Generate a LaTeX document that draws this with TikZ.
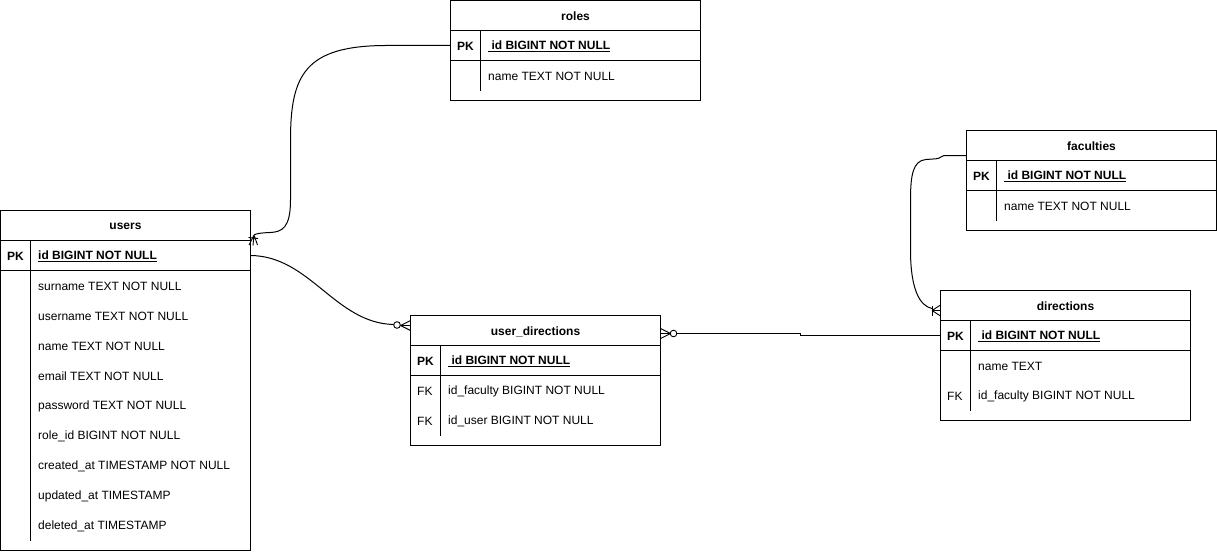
\documentclass[tikz,border=0pt]{standalone}
\usepackage{fontspec}
\setmainfont{Liberation Sans}
\begin{document}
\begin{tikzpicture}[x=1pt,y=-1pt,
  ln/.style={line width=1pt, line cap=rect},
  tbl/.style={draw, line width=1pt, minimum width=250pt, inner sep=0pt, outer sep=0pt},
  ttl/.style={font=\fontsize{12}{14}\selectfont\bfseries, inner sep=0pt, yshift=-1pt},
  fld/.style={font=\fontsize{12}{14}\selectfont, anchor=west, inner sep=0pt, yshift=-1pt},
  key/.style={font=\fontsize{12}{14}\selectfont, anchor=west, inner sep=0pt, yshift=-1pt},
  edge/.style={line width=1pt},
  erm/.style={line width=0.9pt}
]
\useasboundingbox (0,0) rectangle (1217,551);

% ---------------- users ----------------
\node[tbl, minimum height=340pt] (users) at (125.5,380.5) {};
\node[ttl] (usersT) at (125.5,225.5) {users};
\draw[ln] (0.5,240.5) -- (250.5,240.5);
\draw[ln] (0.5,270.5) -- (250.5,270.5);
\draw[ln] (30.5,240.5) -- (30.5,540.5);
\node[key,font=\fontsize{12}{14}\selectfont\bfseries] (uPK) at (7,255.5) {PK};
\node[fld,font=\fontsize{12}{14}\selectfont\bfseries] (uId) at (38,255.5) {\underline{id BIGINT NOT NULL}};
\node[fld] (uF1) at (38,285.5) {surname TEXT NOT NULL};
\node[fld] (uF2) at (38,315.5) {username TEXT NOT NULL};
\node[fld] (uF3) at (38,345.5) {name TEXT NOT NULL};
\node[fld] (uF4) at (38,375.5) {email TEXT NOT NULL};
\node[fld] (uF5) at (38,405.5) {password TEXT NOT NULL};
\node[fld] (uF6) at (38,435.5) {role\_id BIGINT NOT NULL};
\node[fld] (uF7) at (38,465.5) {created\_at TIMESTAMP NOT NULL};
\node[fld] (uF8) at (38,495.5) {updated\_at TIMESTAMP};
\node[fld] (uF9) at (38,525.5) {deleted\_at TIMESTAMP};

% ---------------- roles ----------------
\node[tbl, minimum height=100pt] (roles) at (575.5,50.5) {};
\node[ttl] (rolesT) at (575.5,15.5) {roles};
\draw[ln] (450.5,30.5) -- (700.5,30.5);
\draw[ln] (450.5,60.5) -- (700.5,60.5);
\draw[ln] (480.5,30.5) -- (480.5,90.5);
\node[key,font=\fontsize{12}{14}\selectfont\bfseries] (rPK) at (457,45.5) {PK};
\node[fld,font=\fontsize{12}{14}\selectfont\bfseries] (rId) at (488,45.5) {\underline{\ id BIGINT NOT NULL}};
\node[fld] (rF1) at (488,75.5) {name TEXT NOT NULL};

% ---------------- faculties ----------------
\node[tbl, minimum height=100pt] (fac) at (1091.5,180.5) {};
\node[ttl] (facT) at (1091.5,145.5) {faculties};
\draw[ln] (966.5,160.5) -- (1216.5,160.5);
\draw[ln] (966.5,190.5) -- (1216.5,190.5);
\draw[ln] (996.5,160.5) -- (996.5,220.5);
\node[key,font=\fontsize{12}{14}\selectfont\bfseries] (fPK) at (973,175.5) {PK};
\node[fld,font=\fontsize{12}{14}\selectfont\bfseries] (fId) at (1004,175.5) {\underline{\ id BIGINT NOT NULL}};
\node[fld] (fF1) at (1004,205.5) {name TEXT NOT NULL};

% ---------------- directions ----------------
\node[tbl, minimum height=130pt] (dir) at (1065.5,355.5) {};
\node[ttl] (dirT) at (1065.5,305.5) {directions};
\draw[ln] (940.5,320.5) -- (1190.5,320.5);
\draw[ln] (940.5,350.5) -- (1190.5,350.5);
\draw[ln] (970.5,320.5) -- (970.5,410.5);
\node[key,font=\fontsize{12}{14}\selectfont\bfseries] (dPK) at (947,335.5) {PK};
\node[fld,font=\fontsize{12}{14}\selectfont\bfseries] (dId) at (978,335.5) {\underline{\ id BIGINT NOT NULL}};
\node[fld] (dF1) at (978,365.5) {name TEXT};
\node[key] (dFK) at (947,395.5) {FK};
\node[fld] (dF2) at (978,395.5) {id\_faculty BIGINT NOT NULL};

% ---------------- user_directions ----------------
\node[tbl, minimum height=130pt] (ud) at (535.5,380.5) {};
\node[ttl] (udT) at (535.5,330.5) {user\_directions};
\draw[ln] (410.5,345.5) -- (660.5,345.5);
\draw[ln] (410.5,375.5) -- (660.5,375.5);
\draw[ln] (440.5,345.5) -- (440.5,435.5);
\node[key,font=\fontsize{12}{14}\selectfont\bfseries] (udPK) at (417,360.5) {PK};
\node[fld,font=\fontsize{12}{14}\selectfont\bfseries] (udId) at (448,360.5) {\underline{\ id BIGINT NOT NULL}};
\node[key] (udFK1) at (417,390.5) {FK};
\node[fld] (udF1) at (448,390.5) {id\_faculty BIGINT NOT NULL};
\node[key] (udFK2) at (417,420.5) {FK};
\node[fld] (udF2) at (448,420.5) {id\_user BIGINT NOT NULL};

% ---------------- connection points ----------------
\coordinate (rolesL) at (450.5,45.5);
\coordinate (usersEnd) at (254,235);
\coordinate (usersR) at (250.5,255.5);
\coordinate (udLc) at (393.5,324.5);
\coordinate (udRc) at (677,333.5);
\coordinate (dirL) at (940.5,335.5);
\coordinate (facL) at (966.5,155.5);
\coordinate (dirEnd) at (932,308.5);

% ---------------- connectors ----------------
% roles -> users
\draw[edge] (rolesL) -- (385,45.5) .. controls (305,46) and (290.5,75) .. (290.5,140)
  -- (290.5,200) .. controls (290.5,228) and (282,232) .. (270,232.5)
  .. controls (262,232.8) and (256,233.5) .. (usersEnd);
% one-or-many marker (users end)
\draw[erm] (usersEnd) -- (249,245) (usersEnd) -- (253,245.5) (usersEnd) -- (257.5,245);
\draw[erm] (248.5,237.5) -- (258,238.5);

% users -> user_directions
\draw[edge] (usersR) .. controls (310,256) and (335,323) .. (udLc);
\draw[erm] (397,325) circle (3.3pt);
\draw[erm] (400.5,325.5) -- (410.5,320.5) (400.5,325.5) -- (410.5,325.5) (400.5,325.5) -- (410.5,330.5);

% user_directions -> directions
\draw[erm] (670.5,333.5) -- (660.5,328.5) (670.5,333.5) -- (660.5,333.5) (670.5,333.5) -- (660.5,338.5);
\draw[erm] (673.5,333.5) circle (3.3pt);
\draw[edge] (udRc) -- (800.5,333.5) -- (800.5,335.5) -- (dirL);

% faculties -> directions
\draw[edge] (facL) -- (944,155.5) .. controls (941,155.5) and (941,158.5) .. (936,158.8)
  -- (926,159.5) .. controls (913,160.5) and (910.5,175) .. (910.5,200)
  -- (910.5,250) .. controls (910.5,290) and (920,306) .. (dirEnd);
\draw[erm] (932,310.5) -- (940.5,305) (932,310.5) -- (940.5,310.5) (932,310.5) -- (940.5,316);
\draw[erm] (932.5,305.5) -- (932.5,315.5);
\end{tikzpicture}
\end{document}
